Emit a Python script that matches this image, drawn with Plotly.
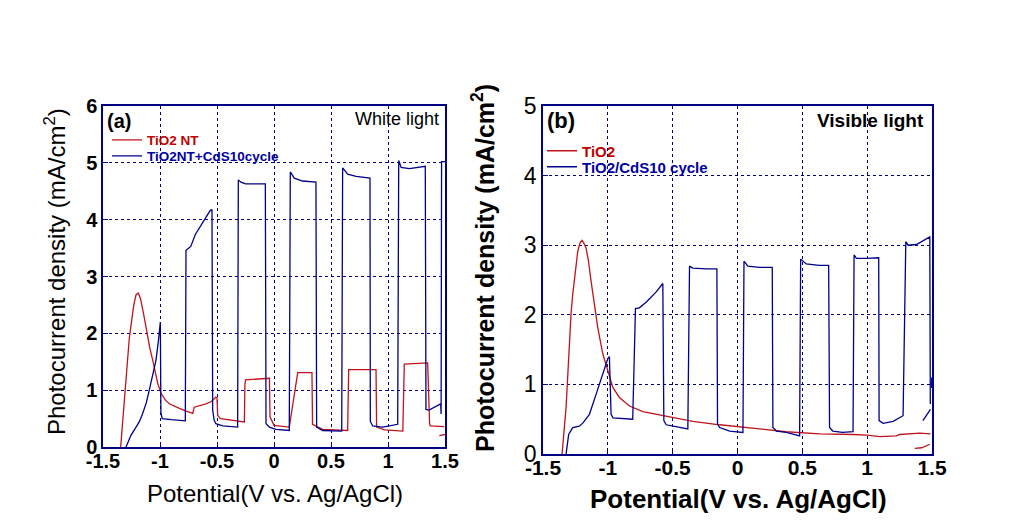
import plotly.graph_objects as go

# ---------------- data ----------------
tick_vals_x = [-1.5, -1, -0.5, 0, 0.5, 1, 1.5]
tick_text_x = ["-1.5", "-1", "-0.5", "0", "0.5", "1", "1.5"]
tick_vals_ya = [0, 1, 2, 3, 4, 5, 6]
tick_vals_yb = [0, 1, 2, 3, 4, 5]

# Panel (a): white light
a_tio2_x = [-1.345, -1.31, -1.27, -1.23, -1.21, -1.19, -1.17, -1.14, -1.12, -1.09, -1.064, -1.04, -1.02,
            -0.99, -0.95, -0.918, -0.87, -0.83, -0.77, -0.713, -0.70, -0.66, -0.597, -0.55, -0.509, -0.50,
            -0.494, -0.47, -0.363, -0.26, -0.255, -0.25, -0.19, -0.04, -0.035, 0.0, 0.134, 0.20, 0.208,
            0.333, 0.338, 0.427, 0.646, 0.655, 0.895, 0.90, 0.97, 1.13, 1.143, 1.348, 1.358, 1.365, 1.37,
            1.494, None, 1.45, 1.50]
a_tio2_y = [0.0, 0.9, 1.9, 2.5, 2.68, 2.71, 2.6, 2.3, 2.06, 1.75, 1.53, 1.3, 1.12,
            0.94, 0.82, 0.76, 0.71, 0.68, 0.63, 0.59, 0.70, 0.72, 0.76, 0.80, 0.88, 0.87,
            0.56, 0.50, 0.47, 0.44, 1.10, 1.18, 1.19, 1.21, 0.53, 0.38, 0.35, 1.25, 1.31,
            1.31, 0.40, 0.31, 0.29, 1.36, 1.36, 0.35, 0.30, 0.28, 1.46, 1.48, 0.71, 0.41, 0.37,
            0.36, None, 0.20, 0.22]

a_cds_x = [-1.298, -1.275, -1.254, -1.21, -1.18, -1.152, -1.12, -1.094, -1.06, -1.035, -1.015, -1.006,
           -0.997, -0.992, -0.98, -0.90, -0.778, -0.772, -0.73, -0.69, -0.63, -0.56, -0.544, -0.538,
           -0.525, -0.51, -0.45, -0.319, -0.313, -0.29, -0.25, -0.076, -0.07, -0.04, 0.017, 0.134,
           0.143, 0.178, 0.25, 0.368, 0.374, 0.427, 0.594, 0.602, 0.646, 0.72, 0.842, 0.845, 0.866,
           0.953, 1.085, 1.094, 1.115, 1.188, 1.327, 1.333, 1.36, 1.462, 1.466, 1.470, 1.50]
a_cds_y = [0.0, 0.12, 0.21, 0.35, 0.45, 0.59, 0.78, 1.0, 1.3, 1.53, 1.85, 2.06,
           2.2, 0.6, 0.5, 0.48, 0.46, 3.46, 3.53, 3.74, 3.94, 4.16, 4.18, 0.65,
           0.47, 0.41, 0.37, 0.35, 4.70, 4.66, 4.63, 4.63, 0.41, 0.35, 0.31, 0.29,
           4.84, 4.73, 4.68, 4.66, 0.35, 0.29, 0.28, 4.91, 4.80, 4.76, 4.73, 0.45, 0.37,
           0.35, 0.40, 5.04, 4.92, 4.90, 4.94, 0.66, 0.65, 0.76, 0.58, 5.02, 5.02]

# Panel (b): visible light
b_tio2_x = [-1.353, -1.322, -1.284, -1.271, -1.232, -1.215, -1.199, -1.185, -1.168, -1.15, -1.129,
            -1.078, -1.039, -1.0, -0.962, -0.911, -0.833, -0.73, -0.602, -0.5, -0.344, -0.138, 0.0,
            0.17, 0.376, 0.634, 0.891, 1.0, 1.097, 1.226, 1.25, 1.406, 1.488, None, 1.367, 1.42, 1.483]
b_tio2_y = [0.0, 0.67, 2.01, 2.29, 2.91, 3.03, 3.07, 3.03, 2.96, 2.78, 2.48,
            1.82, 1.44, 1.2, 0.96, 0.81, 0.69, 0.61, 0.56, 0.53, 0.47, 0.42, 0.39,
            0.36, 0.32, 0.29, 0.28, 0.27, 0.25, 0.26, 0.28, 0.30, 0.29, None, 0.08, 0.09, 0.14]

b_cds_x = [-1.322, -1.302, -1.271, -1.22, -1.19, -1.142, -1.09, -1.039, -1.0, -0.988, -0.975, -0.96,
           -0.808, -0.787, -0.757, -0.705, -0.627, -0.576, -0.568, -0.55, -0.473, -0.383, -0.37,
           -0.345, -0.24, -0.159, -0.154, -0.138, -0.06, 0.042, 0.05, 0.08, 0.17, 0.268, 0.273,
           0.30, 0.376, 0.479, 0.487, 0.53, 0.63, 0.703, 0.71, 0.735, 0.81, 0.891, 0.899, 0.917,
           0.995, 1.089, 1.092, 1.123, 1.20, 1.277, 1.298, 1.316, 1.38, 1.47, 1.483, 1.487,
           None, 1.43, 1.488, None, 1.497, 1.497]
b_cds_y = [0.0, 0.28, 0.38, 0.40, 0.45, 0.57, 0.86, 1.15, 1.37, 1.40, 0.57, 0.52,
           0.50, 2.09, 2.10, 2.18, 2.33, 2.45, 0.48, 0.42, 0.39, 0.36, 2.70,
           2.67, 2.66, 2.66, 0.43, 0.38, 0.33, 0.31, 2.77, 2.70, 2.68, 2.68, 0.38,
           0.33, 0.31, 0.26, 2.80, 2.73, 2.71, 2.71, 0.38, 0.33, 0.31, 0.32, 2.86, 2.81,
           2.81, 2.82, 0.48, 0.44, 0.47, 0.55, 3.05, 3.00, 3.01, 3.11, 3.12, 0.72,
           None, 0.48, 0.64, None, 0.95, 1.10]

# ---------------- styling ----------------
W, H = 1010, 523
OFF = 8  # page body margin
RED = "#c0141c"
BLUE = "#00008c"
NAVY = "#000080"
FONT = "Arial, Liberation Sans, sans-serif"


def px(x):
    return (x - OFF) / W


def py(y):
    return 1 - (y - OFF) / H


fig = go.Figure()
fig.add_trace(go.Scatter(x=a_tio2_x, y=a_tio2_y, mode="lines", line=dict(color=RED, width=1.3),
                         name="TiO2 NT", xaxis="x", yaxis="y", legend="legend", connectgaps=False))
fig.add_trace(go.Scatter(x=a_cds_x, y=a_cds_y, mode="lines", line=dict(color=BLUE, width=1.3),
                         name="TiO2NT+CdS10cycle", xaxis="x", yaxis="y", legend="legend2", connectgaps=False))
fig.add_trace(go.Scatter(x=b_tio2_x, y=b_tio2_y, mode="lines", line=dict(color=RED, width=1.3),
                         name="TiO2", xaxis="x2", yaxis="y2", legend="legend3", connectgaps=False))
fig.add_trace(go.Scatter(x=b_cds_x, y=b_cds_y, mode="lines", line=dict(color=BLUE, width=1.3),
                         name="TiO2/CdS10 cycle", xaxis="x2", yaxis="y2", legend="legend4", connectgaps=False))


def xaxis_style(domain, anchor, size, standoff):
    return dict(domain=domain, anchor=anchor, range=[-1.5, 1.5], tickmode="array",
                tickvals=tick_vals_x, ticktext=tick_text_x, automargin=False,
                showgrid=True, gridcolor=NAVY, griddash="dot", gridwidth=1,
                showline=True, linecolor=NAVY, linewidth=1.5, mirror=True,
                ticks="inside", ticklen=5, tickcolor=NAVY, zeroline=False,
                ticklabelstandoff=standoff,
                tickfont=dict(family=FONT, size=size, color="black", weight="bold"),
                fixedrange=True)


def yaxis_style(domain, anchor, rng, vals, size, weight):
    return dict(domain=domain, anchor=anchor, range=rng, tickmode="array",
                tickvals=vals, ticktext=[str(v) for v in vals], automargin=False,
                showgrid=True, gridcolor=NAVY, griddash="dot", gridwidth=1,
                showline=True, linecolor=NAVY, linewidth=1.5, mirror=True,
                ticks="inside", ticklen=5, tickcolor=NAVY, zeroline=False,
                tickfont=dict(family=FONT, size=size, color="black", weight=weight),
                fixedrange=True)


def legend_at(x, y, color, size):
    return dict(x=px(x), y=py(y), xanchor="left", yanchor="middle", bgcolor="rgba(0,0,0,0)",
                borderwidth=0, itemwidth=30, tracegroupgap=0,
                font=dict(family=FONT, size=size, color=color, weight="bold"))


ann = [
    dict(text="(a)", x=px(105), y=py(121), xanchor="left", yanchor="middle",
         font=dict(family=FONT, size=20, color="black", weight="bold")),
    dict(text="White light", x=px(441), y=py(119), xanchor="right", yanchor="middle",
         font=dict(family=FONT, size=18, color="black")),
    dict(text="(b)", x=px(545), y=py(121), xanchor="left", yanchor="middle",
         font=dict(family=FONT, size=22, color="black", weight="bold")),
    dict(text="Visible light", x=px(926), y=py(121), xanchor="right", yanchor="middle",
         font=dict(family=FONT, size=19, color="black", weight="bold")),
    dict(text="Potential(V vs. Ag/AgCl)", x=px(275), y=py(493), xanchor="center", yanchor="middle",
         font=dict(family=FONT, size=24, color="black")),
    dict(text="Potential(V vs. Ag/AgCl)", x=px(738), y=py(499), xanchor="center", yanchor="middle",
         font=dict(family=FONT, size=26, color="black", weight="bold")),
    dict(text="Photocurrent density (mA/cm<sup>2</sup>)", x=px(55), y=py(272), textangle=-90,
         xanchor="center", yanchor="middle", font=dict(family=FONT, size=24, color="black")),
    dict(text="Photocurrent density (mA/cm<sup>2</sup>)", x=px(483), y=py(268), textangle=-90,
         xanchor="center", yanchor="middle", font=dict(family=FONT, size=25, color="black", weight="bold")),
]
for a in ann:
    a.update(xref="paper", yref="paper", showarrow=False)

fig.update_layout(
    template="none",
    width=W, height=H, autosize=False,
    margin=dict(l=0, r=0, t=0, b=0, pad=0, autoexpand=False),
    paper_bgcolor="white", plot_bgcolor="white",
    xaxis=xaxis_style([px(103), px(445)], "y", 20, -5),
    yaxis=yaxis_style([py(447), py(106)], "x", [0, 6], tick_vals_ya, 20, "bold"),
    xaxis2=xaxis_style([px(543), px(932)], "y2", 21, -6),
    yaxis2=yaxis_style([py(454), py(106)], "x2", [0, 5], tick_vals_yb, 23, "normal"),
    legend=legend_at(107, 140, "#c00000", 13.5),
    legend2=legend_at(107, 156, "#0000a0", 13.5),
    legend3=legend_at(542, 151, "#c00000", 15),
    legend4=legend_at(542, 167, "#0000a0", 15),
    annotations=ann,
    showlegend=True,
)

fig.write_html("out.html", config={"displayModeBar": False})
